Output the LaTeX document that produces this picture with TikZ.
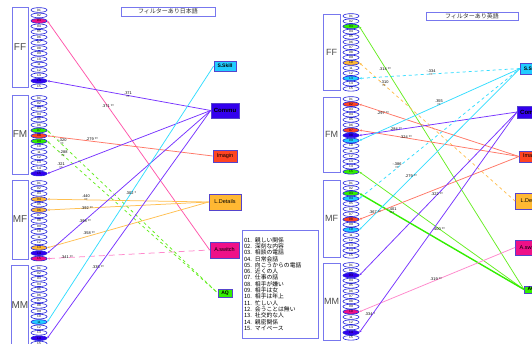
\documentclass[tikz,border=0pt]{standalone}
\usepackage{fontspec}
\setmainfont{Liberation Sans}
\newfontfamily\jpfont{Noto Sans CJK JP}
\usetikzlibrary{arrows.meta,positioning,shapes.geometric,shadows}
\definecolor{eblue}{HTML}{2222DD}
\definecolor{gblue}{HTML}{7777EE}
\definecolor{bblue}{HTML}{5544CC}
\definecolor{sblue}{HTML}{9999DD}
\definecolor{hmag}{HTML}{EE1188}
\definecolor{hblue}{HTML}{3300EE}
\definecolor{hgreen}{HTML}{33EE00}
\definecolor{hred}{HTML}{FF4422}
\definecolor{horange}{HTML}{FFB833}
\definecolor{hcyan}{HTML}{22CCFF}
\definecolor{lmag}{HTML}{FF55AA}
\definecolor{lpink}{HTML}{FF88CC}
\definecolor{lblue}{HTML}{7733FF}
\definecolor{lcyan}{HTML}{33DDFF}
\definecolor{lred}{HTML}{FF7766}
\definecolor{lorange}{HTML}{FFC050}
\definecolor{lgreen}{HTML}{66EE22}

\tikzset{
  ell/.style={ellipse,draw=eblue,fill=white,line width=0.6pt,minimum width=16pt,
    minimum height=4.7pt,inner sep=0pt,font=\fontsize{3.2}{3.2}\selectfont},
  grp/.style={draw=gblue,line width=0.8pt,inner sep=0pt,text=black!70,
    font=\fontsize{10}{10}\selectfont},
  fbox/.style={draw=bblue,line width=0.7pt,inner sep=0pt,font=\fontsize{5.5}{6}\selectfont,
    drop shadow={shadow xshift=0.8pt,shadow yshift=-0.8pt,fill=sblue}},
  titlebox/.style={draw=gblue,line width=0.9pt,inner sep=0pt,text=black!80,
    font=\jpfont\fontsize{6}{6}\selectfont},
  lnk/.style={line width=0.75pt,{Stealth[length=2.5pt,width=2.2pt]}-},
  lbl/.style={inner sep=0pt,align=center,font=\fontsize{3.9}{4.2}\selectfont},
  % highlighted items
  hljFF3/.style={fill=hmag}, hljFF14/.style={fill=hblue},
  hljFM7/.style={fill=hgreen}, hljFM8/.style={fill=hred}, hljFM9/.style={fill=hgreen},
  hljFM15/.style={fill=hblue},
  hljMF4/.style={fill=horange}, hljMF6/.style={fill=horange}, hljMF13/.style={fill=horange},
  hljMF14/.style={fill=hblue}, hljMF15/.style={fill=hmag},
  hljMM11/.style={fill=hcyan}, hljMM14/.style={fill=hblue},
  hleFF3/.style={fill=hgreen}, hleFF10/.style={fill=horange}, hleFF13/.style={fill=hcyan},
  hleFM2/.style={fill=hred}, hleFM7/.style={fill=hred}, hleFM8/.style={fill=hblue},
  hleFM9/.style={fill=hcyan}, hleFM15/.style={fill=hgreen},
  hleMF3/.style={fill=hgreen}, hleMF4/.style={fill=hcyan}, hleMF8/.style={fill=hred},
  hleMF10/.style={fill=hcyan},
  hleMM3/.style={fill=hblue}, hleMM10/.style={fill=hmag}, hleMM14/.style={fill=hblue},
}

% column of 15 items: prefix, x, first y, step
\newcommand\itemcol[4]{%
  \foreach \i in {1,...,15}{
    \pgfmathsetmacro\yy{#3+(\i-1)*#4}
    \node[ell,hl#1\i/.try] (#1\i) at (#2,\yy) {\ifnum\i<10 0\fi\i};
  }}

\begin{document}
\begin{tikzpicture}[x=1pt,y=-1pt]
  \useasboundingbox[fill=white] (0,0) rectangle (532,344);

  % titles
  \node[titlebox,minimum width=94pt,minimum height=9pt] (jtitle) at (168,11.5) {フィルターあり日本語};
  \node[titlebox,minimum width=92pt,minimum height=8pt] (etitle) at (472,16) {フィルターあり英語};

  % groups, Japanese
  \node[grp,minimum width=16pt,minimum height=80pt] (jFFbox) at (20,47) {FF};
  \node[grp,minimum width=16pt,minimum height=79pt] (jFMbox) at (20,134.5) {FM};
  \node[grp,minimum width=16pt,minimum height=79pt] (jMFbox) at (20,219.5) {MF};
  \node[grp,minimum width=16pt,minimum height=80pt] (jMMbox) at (20,305) {MM};
  \itemcol{jFF}{39}{10}{5.45}
  \itemcol{jFM}{39}{98}{5.4}
  \itemcol{jMF}{39}{183}{5.4}
  \itemcol{jMM}{39}{268}{5.4}

  % groups, English
  \node[grp,minimum width=17pt,minimum height=76pt,font=\fontsize{9}{9}\selectfont] (eFFbox) at (331.5,52) {FF};
  \node[grp,minimum width=17pt,minimum height=75pt,font=\fontsize{9}{9}\selectfont] (eFMbox) at (331.5,134.5) {FM};
  \node[grp,minimum width=17pt,minimum height=77pt,font=\fontsize{9}{9}\selectfont] (eMFbox) at (331.5,218.5) {MF};
  \node[grp,minimum width=17pt,minimum height=77pt,font=\fontsize{9}{9}\selectfont] (eMMbox) at (331.5,301.5) {MM};
  \itemcol{eFF}{351}{16}{5.2}
  \itemcol{eFM}{351}{99}{5.2}
  \itemcol{eMF}{351}{183}{5.2}
  \itemcol{eMM}{351}{265}{5.2}

  % factors, Japanese
  \node[fbox,fill=hcyan,minimum width=22pt,minimum height=10pt,font=\bfseries\fontsize{5}{5}\selectfont] (jSS) at (225,66) {S.Skill};
  \node[fbox,fill=hblue,minimum width=28pt,minimum height=15pt,font=\bfseries\fontsize{6}{6}\selectfont] (jCo) at (225,110.5) {Commu};
  \node[fbox,fill=hred,minimum width=24pt,minimum height=12pt] (jIm) at (225,156) {Imagin};
  \node[fbox,fill=horange,minimum width=32pt,minimum height=16pt] (jLD) at (225,202) {L.Details};
  \node[fbox,fill=hmag,minimum width=29pt,minimum height=16pt] (jAsw) at (224.5,250) {A.switch};
  \node[fbox,fill=hgreen,minimum width=14pt,minimum height=8pt,font=\bfseries\fontsize{5}{5}\selectfont] (jAQ) at (225,293) {AQ};

  % factors, English
  \node[fbox,fill=hcyan,anchor=west,minimum width=22pt,minimum height=11pt,font=\bfseries\fontsize{5}{5}\selectfont] (eSS) at (520,68.5) {S.Skill};
  \node[fbox,fill=hblue,anchor=west,minimum width=28pt,minimum height=12pt,font=\bfseries\fontsize{6}{6}\selectfont] (eCo) at (517,112) {Commu};
  \node[fbox,fill=hred,anchor=west,minimum width=24pt,minimum height=11pt] (eIm) at (519,156.5) {Imagin};
  \node[fbox,fill=horange,anchor=west,minimum width=32pt,minimum height=16pt] (eLD) at (515,201) {L.Details};
  \node[fbox,fill=hmag,anchor=west,minimum width=29pt,minimum height=15pt] (eAsw) at (515,247.5) {A.switch};
  \node[fbox,fill=hgreen,anchor=west,minimum width=14pt,minimum height=7pt,font=\bfseries\fontsize{5}{5}\selectfont] (eAQ) at (524,289.5) {AQ};

  % legend
  \node[draw=gblue,line width=0.8pt,fill=white,minimum width=76pt,minimum height=108pt,
    text width=72pt,inner sep=2pt,align=left,font=\jpfont\fontsize{5.8}{6.3}\selectfont] (legend) at (280,284)
    {01. 親しい関係\\02. 深刻な内容\\03. 相談の電話\\04. 日常会話\\05. 向こうからの電話\\
     06. 近くの人\\07. 仕事の話\\08. 相手が嫌い\\09. 相手は女\\10. 相手は年上\\11. 忙しい人\\
     12. 会うことは無い\\13. 社交的な人\\14. 親密関係\\15. マイペース};

  % links, Japanese
  \draw[lnk,lmag] (jFF3.east) -- (jAsw.west);
  \draw[lnk,lblue] (jFF14.east) -- (jCo.west);
  \draw[lnk,lgreen,dashed] (jFM7.east) -- (jAQ.west);
  \draw[lnk,lred] (jFM8.east) -- (jIm.west);
  \draw[lnk,lgreen,dashed] (jFM9.east) -- (jAQ.west);
  \draw[lnk,lblue] (jFM15.east) -- (jCo.west);
  \draw[lnk,lorange] (jMF4.east) -- (jLD.west);
  \draw[lnk,lorange] (jMF6.east) -- (jLD.west);
  \draw[lnk,lorange] (jMF13.east) -- (jLD.west);
  \draw[lnk,lblue] (jMF14.east) -- (jCo.west);
  \draw[lnk,lpink,dash pattern=on 6pt off 4pt] (jMF15.east) -- (jAsw.west);
  \draw[lnk,lcyan] (jMM11.east) -- (jSS.west);
  \draw[lnk,lblue] (jMM14.east) -- (jCo.west);

  \node[lbl] (jl1) at (108,106) {.371 **};
  \node[lbl] (jl2) at (128,95) {.371\\**};
  \node[lbl] (jl3) at (62,142) {-.320\\**};
  \node[lbl] (jl4) at (92,139) {.279 **};
  \node[lbl] (jl5) at (63,154) {-.288\\**};
  \node[lbl] (jl6) at (61,166) {.321\\**};
  \node[lbl] (jl7) at (86,198.5) {.440\\**};
  \node[lbl] (jl8) at (87,208) {.392 **};
  \node[lbl] (jl9) at (85,221) {.398 **};
  \node[lbl] (jl10) at (89,233) {.358 **};
  \node[lbl] (jl11) at (67,257) {.341 **};
  \node[lbl] (jl12) at (98,267) {.335 **};
  \node[lbl] (jl13) at (131,193) {.302 *};

  % links, English
  \draw[lnk,lgreen] (eFF3.east) -- (eAQ.west);
  \draw[lnk,lorange,dashed] (eFF10.east) -- (eLD.west);
  \draw[lnk,lcyan,dashed] (eFF13.east) -- (eSS.west);
  \draw[lnk,lred] (eFM2.east) -- (eIm.west);
  \draw[lnk,lred] (eFM7.east) -- (eIm.west);
  \draw[lnk,lblue] (eFM8.east) -- (eCo.west);
  \draw[lnk,lcyan] (eFM9.east) -- (eSS.west);
  \draw[lnk,lgreen] (eFM15.east) -- (eAQ.west);
  \draw[lnk,hgreen,line width=1.4pt] (eMF3.east) -- (eAQ.west);
  \draw[lnk,lcyan,dashed] (eMF4.east) -- (eSS.west);
  \draw[lnk,lred] (eMF8.east) -- (eIm.west);
  \draw[lnk,lcyan] (eMF10.east) -- (eSS.west);
  \draw[lnk,lblue] (eMM3.east) -- (eCo.west);
  \draw[lnk,lpink] (eMM10.east) -- (eAsw.west);
  \draw[lnk,lblue] (eMM14.east) -- (eCo.west);

  \node[lbl] (el1) at (385,69) {.314 **};
  \node[lbl] (el2) at (384,84.5) {-.310\\**};
  \node[lbl] (el3) at (431,73.5) {-.334\\**};
  \node[lbl] (el4) at (383,113) {.297 **};
  \node[lbl] (el5) at (396,129) {.284 **};
  \node[lbl] (el6) at (406,137) {.324 **};
  \node[lbl] (el7) at (439,103.5) {.355\\**};
  \node[lbl] (el8) at (397,166) {-.386\\**};
  \node[lbl] (el9) at (411,176) {.279 **};
  \node[lbl] (el10) at (392,211.5) {-.401\\***};
  \node[lbl] (el11) at (375,212) {.367 **};
  \node[lbl] (el12) at (437,194) {.322 **};
  \node[lbl] (el13) at (439,229) {.400 **};
  \node[lbl] (el14) at (436,279) {.319 **};
  \node[lbl] (el15) at (370,314) {.334 *};
\end{tikzpicture}
\end{document}
